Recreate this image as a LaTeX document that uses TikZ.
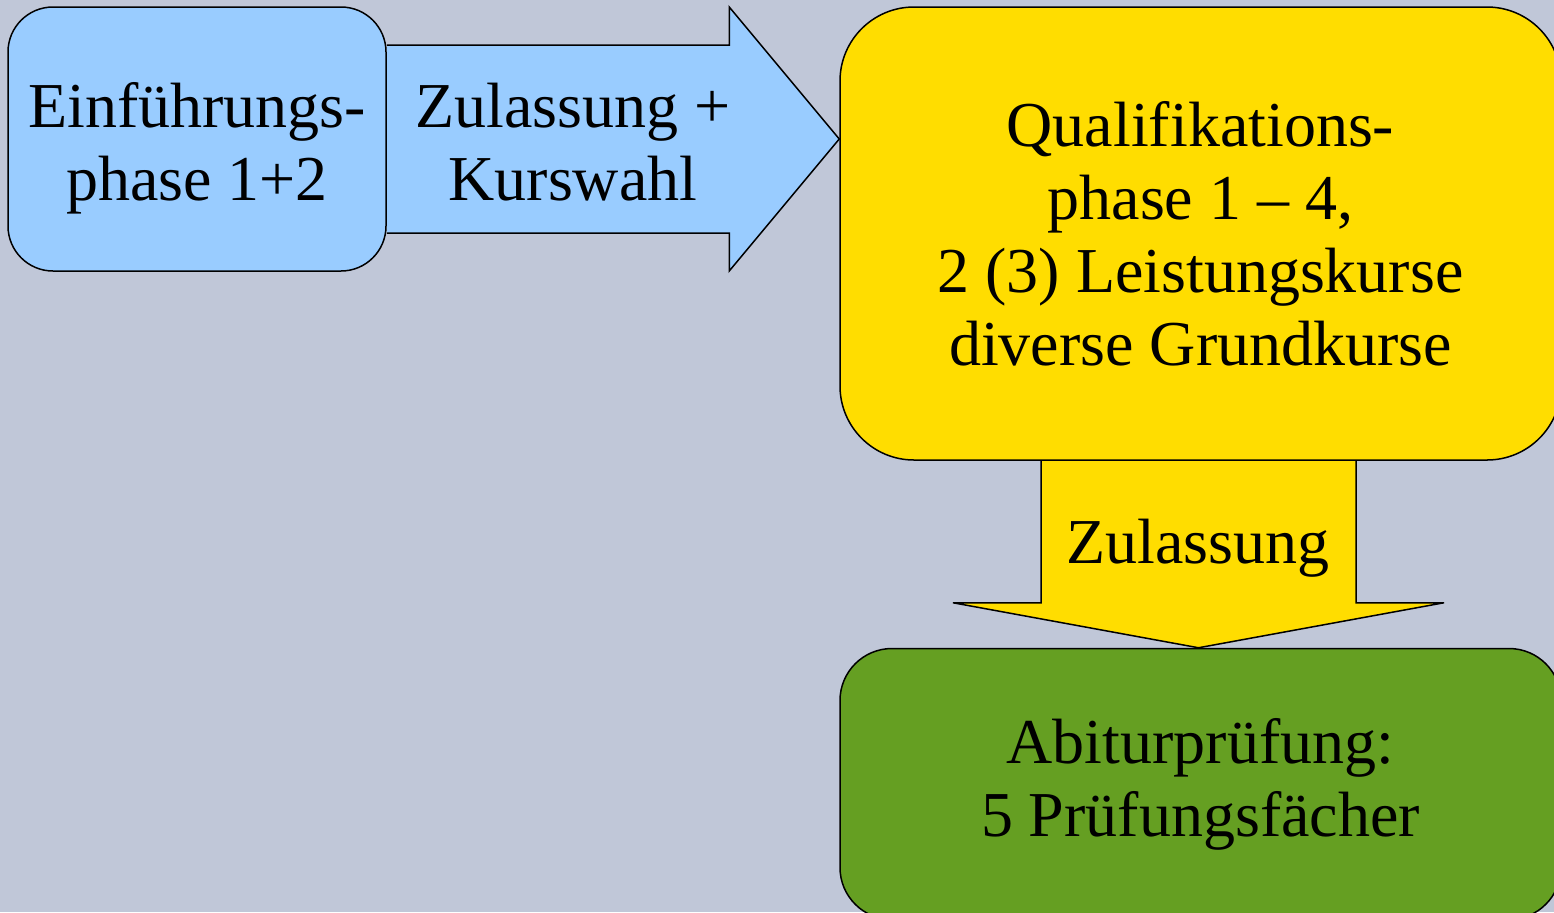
\documentclass[tikz,border=0pt]{standalone}
\usepackage{fontspec}
\setmainfont{Liberation Serif}
\usetikzlibrary{calc,backgrounds}
\definecolor{phbg}{RGB}{192,199,216}
\definecolor{phblue}{RGB}{153,204,255}
\definecolor{phyellow}{RGB}{255,221,0}
\definecolor{phgreen}{RGB}{101,159,34}
\tikzstyle{phasebox} = [draw=black, line width=0.75pt, align=center, inner sep=0pt, font=\fontsize{32}{36.5}\selectfont]
\tikzstyle{blockarrow} = [draw=black, line width=0.75pt, line join=miter]
\tikzstyle{arrowtext} = [align=center, inner sep=0pt, font=\fontsize{32}{36.5}\selectfont]

\begin{document}
\begin{tikzpicture}[x=0.5pt, y=-0.5pt]
\useasboundingbox (0,0) rectangle (1554,912);

% Left box - Einfuehrungsphase
\node[phasebox, fill=phblue, rounded corners=22.5pt, minimum width=189pt, minimum height=132pt] (einf) at (197,139) {};
\node[arrowtext] (einftext) at (197,148) {Einführungs-\\phase 1+2};

% Right box - Qualifikationsphase
\node[phasebox, fill=phyellow, rounded corners=37pt, minimum width=360.5pt, minimum height=226.5pt] (quali) at (1200.5,233.5) {Qualifikations-\\phase 1 – 4,\\2 (3) Leistungskurse\\diverse Grundkurse};

% Bottom box - Abitur
\node[phasebox, fill=phgreen, rounded corners=26pt, minimum width=360.5pt, minimum height=135.5pt] (abi) at (1200.5,784) {Abiturprüfung:\\5 Prüfungsfächer};

% Block arrows behind the boxes
\begin{pgfonlayer}{background}
\fill[phbg] (0,0) rectangle (1554,912);
\coordinate (tipA) at (quali.west |- einf.east);
\draw[blockarrow, fill=phblue] ($(einf.east)+(0,-94)$) -- ($(tipA)+(-110,-94)$) -- ($(tipA)+(-110,-132)$) -- (tipA) -- ($(tipA)+(-110,132)$) -- ($(tipA)+(-110,94)$) -- ($(einf.east)+(0,94)$);
\coordinate (tipB) at ($(abi.north)+(-2,0)$);
\draw[blockarrow, fill=phyellow] ($(quali.south)+(-159.5,0)$) -- ($(tipB)+(-157.5,-45)$) -- ($(tipB)+(-245.5,-45)$) -- (tipB) -- ($(tipB)+(245.5,-45)$) -- ($(tipB)+(157.5,-45)$) -- ($(quali.south)+(155.5,0)$);
\end{pgfonlayer}

% Arrow labels
\node[arrowtext] (kurswahl) at (573,142) {Zulassung +\\Kurswahl};
\node[arrowtext] (zulassung) at (1198,548) {Zulassung};
\end{tikzpicture}
\end{document}
